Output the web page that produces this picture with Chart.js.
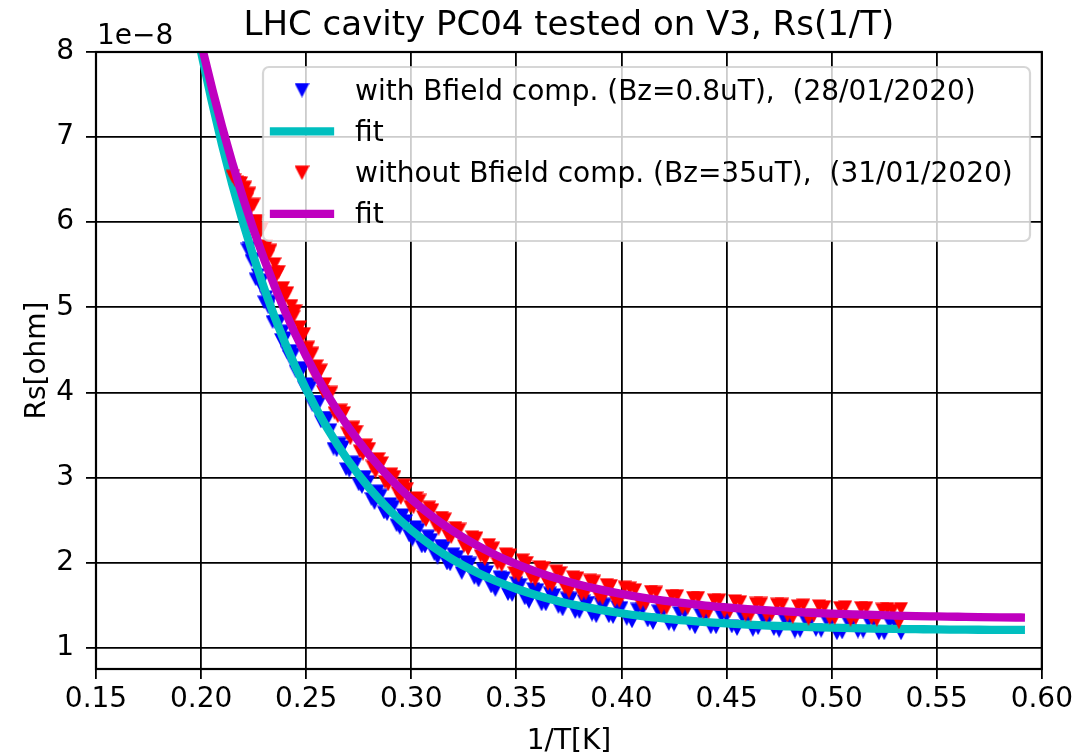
<!DOCTYPE html>
<html>
<head>
<meta charset="utf-8">
<title>LHC cavity PC04 tested on V3, Rs(1/T)</title>
<script src="https://cdn.jsdelivr.net/npm/chart.js@4.4.0/dist/chart.umd.min.js"></script>
<style>
  html, body { margin: 0; padding: 0; background: #fff; }
  canvas { display: block; }
</style>
</head>
<body>
<canvas id="rsChart" width="1077" height="755"></canvas>
<script>
// Rs values are in units of 1e-8 ohm, x is 1/T in 1/K

// 28/01/2020 run, with Bfield compensation (Bz=0.8uT)
const blueX = [
  0.222, 0.223, 0.224, 0.225, 0.226, 0.227, 0.228, 0.229, 0.230, 0.231,
  0.232, 0.233, 0.234, 0.235, 0.236, 0.237, 0.238, 0.239, 0.240, 0.241,
  0.242, 0.243, 0.244, 0.245, 0.246, 0.247, 0.248, 0.249, 0.250, 0.251,
  0.252, 0.253, 0.254, 0.255, 0.256, 0.257, 0.258, 0.259, 0.260,
  0.2615, 0.263, 0.2645, 0.266, 0.2675, 0.269, 0.2705, 0.272, 0.2735, 0.275,
  0.2765, 0.278, 0.2795, 0.281, 0.2825, 0.284, 0.2855, 0.287, 0.2885, 0.290,
  0.2915, 0.293, 0.2945, 0.296, 0.2975, 0.299, 0.3005, 0.302, 0.3035, 0.305,
  0.3065, 0.308, 0.3095, 0.311, 0.3125, 0.314, 0.3155, 0.317, 0.3185, 0.320, 0.322,
  0.324, 0.326, 0.328, 0.330, 0.332, 0.334, 0.336, 0.338, 0.340, 0.342,
  0.344, 0.346, 0.348, 0.350, 0.352, 0.354, 0.356, 0.358, 0.360, 0.362,
  0.364, 0.366, 0.368, 0.370, 0.372, 0.374, 0.376, 0.378, 0.380, 0.382,
  0.384, 0.386, 0.388, 0.390, 0.392, 0.394, 0.396, 0.398, 0.400, 0.4025,
  0.405, 0.4075, 0.410, 0.4125, 0.415, 0.4175, 0.420, 0.4225, 0.425, 0.4275,
  0.430, 0.4325, 0.435, 0.4375, 0.440, 0.4425, 0.445, 0.4475, 0.450, 0.4525,
  0.455, 0.4575, 0.460, 0.4625, 0.465, 0.4675, 0.470, 0.4725, 0.475, 0.4775,
  0.480, 0.4825, 0.485, 0.4875, 0.490, 0.4925, 0.495, 0.4975, 0.500, 0.5025,
  0.505, 0.5075, 0.510, 0.5125, 0.515, 0.5175, 0.520, 0.5225, 0.525, 0.5275,
  0.530, 0.5315, 0.533
];
const blueRs = [
  5.68, 5.70, 5.55, 5.57, 5.33, 5.38, 5.27, 5.32, 5.06, 5.12,
  5.00, 5.07, 4.83, 4.83, 4.84, 4.82, 4.62, 4.72, 4.64, 4.47,
  4.42, 4.49, 4.45, 4.25, 4.28, 4.29, 4.26, 4.06, 4.10, 4.09,
  4.06, 3.85, 3.89, 3.89, 3.87, 3.66, 3.70, 3.70, 3.68,
  3.56, 3.34, 3.32, 3.40, 3.36, 3.10, 3.08, 3.18, 3.16, 2.92,
  2.89, 3.01, 2.95, 2.75, 2.70, 2.84, 2.79, 2.59, 2.57, 2.69,
  2.66, 2.44, 2.41, 2.56, 2.49, 2.32, 2.27, 2.42, 2.39, 2.19,
  2.19, 2.31, 2.27, 2.10, 2.06, 2.20, 2.18, 1.99, 1.98, 2.10, 2.07,
  1.88, 2.01, 1.99, 1.82, 1.79, 1.92, 1.89, 1.72, 1.68, 1.83,
  1.82, 1.63, 1.62, 1.76, 1.74, 1.58, 1.54, 1.69, 1.68, 1.51,
  1.51, 1.64, 1.62, 1.48, 1.45, 1.58, 1.58, 1.42, 1.42, 1.55,
  1.53, 1.39, 1.37, 1.52, 1.51, 1.37, 1.36, 1.48, 1.47, 1.34,
  1.31, 1.45, 1.45, 1.32, 1.29, 1.43, 1.43, 1.28, 1.27, 1.41,
  1.41, 1.28, 1.24, 1.39, 1.38, 1.24, 1.24, 1.37, 1.37, 1.25,
  1.22, 1.36, 1.35, 1.21, 1.23, 1.34, 1.34, 1.22, 1.20, 1.33,
  1.33, 1.19, 1.20, 1.32, 1.32, 1.21, 1.20, 1.32, 1.32, 1.17,
  1.18, 1.31, 1.31, 1.19, 1.19, 1.31, 1.31, 1.17, 1.17, 1.30,
  1.30, 1.30, 1.17
];

// 31/01/2020 run, without Bfield compensation (Bz=35uT)
const redX = [
  0.215, 0.216, 0.217, 0.218, 0.219, 0.220, 0.221, 0.222, 0.223, 0.224,
  0.225, 0.226, 0.227, 0.228, 0.229, 0.230, 0.231, 0.232, 0.233, 0.234,
  0.235, 0.236, 0.237, 0.238, 0.239, 0.240, 0.241, 0.242, 0.243, 0.244,
  0.245, 0.246, 0.247, 0.248, 0.249, 0.250, 0.251, 0.252, 0.253, 0.254,
  0.255, 0.256, 0.257, 0.258, 0.259,
  0.2605, 0.262, 0.2635, 0.265, 0.2665, 0.268, 0.2695, 0.271, 0.2725, 0.274,
  0.2755, 0.277, 0.2785, 0.280, 0.2815, 0.283, 0.2845, 0.286, 0.2875, 0.289,
  0.2905, 0.292, 0.2935, 0.295, 0.2965, 0.298, 0.2995, 0.301, 0.3025, 0.304,
  0.3055, 0.307, 0.3085, 0.310, 0.3115, 0.313, 0.3145, 0.316, 0.3175, 0.319, 0.321,
  0.323, 0.325, 0.327, 0.329, 0.331, 0.333, 0.335, 0.337, 0.339, 0.341,
  0.343, 0.345, 0.347, 0.349, 0.351, 0.353, 0.355, 0.357, 0.359, 0.361,
  0.363, 0.365, 0.367, 0.369, 0.371, 0.373, 0.375, 0.377, 0.379, 0.381,
  0.383, 0.385, 0.387, 0.389, 0.391, 0.393, 0.395, 0.397, 0.399, 0.4015,
  0.404, 0.4065, 0.409, 0.4115, 0.414, 0.4165, 0.419, 0.4215, 0.424, 0.4265,
  0.429, 0.4315, 0.434, 0.4365, 0.439, 0.4415, 0.444, 0.4465, 0.449, 0.4515,
  0.454, 0.4565, 0.459, 0.4615, 0.464, 0.4665, 0.469, 0.4715, 0.474, 0.4765,
  0.479, 0.4815, 0.484, 0.4865, 0.489, 0.4915, 0.494, 0.4965, 0.499, 0.5015,
  0.504, 0.5065, 0.509, 0.5115, 0.514, 0.5165, 0.519, 0.5215, 0.524, 0.5265,
  0.529, 0.532, 0.533
];
const redRs = [
  6.54, 6.50, 6.47, 6.46, 6.46, 6.40, 6.41, 6.28, 6.34, 6.18,
  6.21, 5.96, 6.02, 5.88, 5.93, 5.66, 5.72, 5.61, 5.67, 5.41,
  5.51, 5.38, 5.42, 5.17, 5.23, 5.13, 5.17, 4.92, 5.02, 4.89,
  4.96, 4.69, 4.77, 4.66, 4.69, 4.47, 4.53, 4.43, 4.46, 4.21,
  4.31, 4.23, 4.26, 4.01, 4.10,
  3.98, 4.00, 3.76, 3.72, 3.79, 3.76, 3.52, 3.46, 3.59, 3.54,
  3.31, 3.28, 3.38, 3.34, 3.13, 3.07, 3.22, 3.17, 2.95, 2.92,
  3.04, 3.01, 2.82, 2.76, 2.91, 2.87, 2.66, 2.65, 2.76, 2.73,
  2.54, 2.50, 2.65, 2.62, 2.44, 2.40, 2.53, 2.51, 2.32, 2.30, 2.41,
  2.39, 2.20, 2.16, 2.30, 2.29, 2.08, 2.04, 2.21, 2.17, 1.99,
  1.97, 2.10, 2.09, 1.88, 1.85, 2.03, 2.00, 1.83, 1.80, 1.95,
  1.94, 1.75, 1.74, 1.90, 1.88, 1.71, 1.66, 1.83, 1.82, 1.63,
  1.64, 1.79, 1.78, 1.61, 1.58, 1.74, 1.73, 1.56, 1.55, 1.71,
  1.70, 1.68, 1.52, 1.52, 1.66, 1.65, 1.47, 1.47, 1.61, 1.61,
  1.47, 1.47, 1.59, 1.59, 1.42, 1.42, 1.56, 1.56, 1.43, 1.43,
  1.55, 1.54, 1.39, 1.39, 1.52, 1.52, 1.38, 1.40, 1.51, 1.51,
  1.38, 1.36, 1.49, 1.50, 1.34, 1.38, 1.49, 1.48, 1.35, 1.35,
  1.47, 1.48, 1.33, 1.35, 1.47, 1.47, 1.35, 1.33, 1.45, 1.46,
  1.44, 1.30, 1.46
];

// fitted curves, sampled every 0.01 in 1/T
const fitX = [
  0.19, 0.20, 0.21, 0.22, 0.23, 0.24, 0.25, 0.26, 0.27, 0.28,
  0.29, 0.30, 0.31, 0.32, 0.33, 0.34, 0.35, 0.36, 0.37, 0.38,
  0.39, 0.40, 0.41, 0.42, 0.43, 0.44, 0.45, 0.46, 0.47, 0.48,
  0.49, 0.50, 0.51, 0.52, 0.53, 0.54, 0.55, 0.56, 0.57, 0.58, 0.59
];
const fitBlue = [
  9.300, 8.000, 6.908, 5.992, 5.223, 4.577, 4.035, 3.580, 3.198, 2.877,
  2.608, 2.382, 2.192, 2.033, 1.899, 1.787, 1.693, 1.614, 1.547, 1.491,
  1.445, 1.405, 1.372, 1.345, 1.321, 1.302, 1.286, 1.272, 1.260, 1.251,
  1.243, 1.236, 1.230, 1.225, 1.221, 1.218, 1.215, 1.213, 1.211, 1.210, 1.209
];
const fitRed = [
  9.255, 8.105, 7.122, 6.282, 5.564, 4.950, 4.426, 3.977, 3.594, 3.267,
  2.987, 2.747, 2.543, 2.368, 2.219, 2.091, 1.982, 1.889, 1.809, 1.741,
  1.683, 1.633, 1.590, 1.554, 1.523, 1.496, 1.474, 1.454, 1.438, 1.423,
  1.411, 1.401, 1.392, 1.385, 1.378, 1.372, 1.368, 1.364, 1.360, 1.357, 1.355
];

const xTicks = [0.15, 0.20, 0.25, 0.30, 0.35, 0.40, 0.45, 0.50, 0.55, 0.60];
const yTicks = [1, 2, 3, 4, 5, 6, 7, 8];

const labels = [
  'with Bfield comp. (Bz=0.8uT),  (28/01/2020)',
  'fit',
  'without Bfield comp. (Bz=35uT),  (31/01/2020)',
  'fit'
];

const FONT = '"DejaVu Sans", sans-serif';
const FIT_W = 8.3;

// matplotlib-like 'v' marker
function triangleDown(color, size) {
  const c = document.createElement('canvas');
  c.width = size;
  c.height = size;
  const g = c.getContext('2d');
  g.fillStyle = color;
  g.beginPath();
  g.moveTo(0, 0.5);
  g.lineTo(size, 0.5);
  g.lineTo(size / 2, size);
  g.closePath();
  g.fill();
  return c;
}
const blueMark = triangleDown('#0000ff', 14);
const redMark = triangleDown('#ff0000', 14);

const pts = (xs, ys) => xs.map((x, i) => ({ x: x, y: ys[i] }));

// axes frame, title, labels and legend drawn matplotlib style
const decor = {
  id: 'decor',
  afterDatasetsDraw(chart) {
    const ctx = chart.ctx;
    const a = chart.chartArea;
    ctx.save();

    ctx.strokeStyle = '#000';
    ctx.lineWidth = 2.2;
    ctx.strokeRect(a.left, a.top, a.right - a.left, a.bottom - a.top);

    ctx.fillStyle = '#000';
    ctx.textAlign = 'center';
    ctx.textBaseline = 'alphabetic';
    ctx.font = '34px ' + FONT;
    ctx.fillText('LHC cavity PC04 tested on V3, Rs(1/T)', (a.left + a.right) / 2, 35);

    ctx.font = '28px ' + FONT;
    ctx.fillText('1/T[K]', (a.left + a.right) / 2, 749);

    ctx.save();
    ctx.translate(45, (a.top + a.bottom) / 2);
    ctx.rotate(-Math.PI / 2);
    ctx.fillText('Rs[ohm]', 0, 0);
    ctx.restore();

    ctx.textAlign = 'left';
    ctx.fillText('1e\u22128', a.left + 1, 44);

    // legend box
    const lx = 263, ly = 67, lw = 767, lh = 174;
    ctx.beginPath();
    ctx.roundRect(lx, ly, lw, lh, 6);
    ctx.fillStyle = 'rgba(255,255,255,0.8)';
    ctx.fill();
    ctx.strokeStyle = 'rgba(204,204,204,0.8)';
    ctx.lineWidth = 2.2;
    ctx.stroke();

    chart.data.datasets.forEach((ds, i) => {
      const cy = 90 + i * 41.3;
      if (ds.showLine) {
        ctx.beginPath();
        ctx.strokeStyle = ds.borderColor;
        ctx.lineWidth = FIT_W;
        ctx.lineCap = 'square';
        ctx.moveTo(274, cy);
        ctx.lineTo(330, cy);
        ctx.stroke();
      } else {
        const m = triangleDown(ds.borderColor, 15);
        ctx.drawImage(m, 302 - m.width / 2, cy - m.height / 2);
      }
      ctx.fillStyle = '#000';
      ctx.font = '28px ' + FONT;
      ctx.fillText(ds.label, 355, cy + 9.5);
    });

    ctx.restore();
  }
};

new Chart(document.getElementById('rsChart'), {
  type: 'scatter',
  data: {
    datasets: [
      {
        label: labels[0],
        data: pts(blueX, blueRs),
        pointStyle: blueMark,
        pointRadius: 7,
        backgroundColor: '#0000ff',
        borderColor: '#0000ff',
        order: 4
      },
      {
        label: labels[1],
        data: pts(fitX, fitBlue),
        showLine: true,
        pointRadius: 0,
        borderColor: '#00bfbf',
        borderWidth: FIT_W,
        borderCapStyle: 'square',
        cubicInterpolationMode: 'monotone',
        clip: 0,
        order: 3
      },
      {
        label: labels[2],
        data: pts(redX, redRs),
        pointStyle: redMark,
        pointRadius: 7,
        backgroundColor: '#ff0000',
        borderColor: '#ff0000',
        order: 2
      },
      {
        label: labels[3],
        data: pts(fitX, fitRed),
        showLine: true,
        pointRadius: 0,
        borderColor: '#bf00bf',
        borderWidth: FIT_W,
        borderCapStyle: 'square',
        cubicInterpolationMode: 'monotone',
        clip: 0,
        order: 1
      }
    ]
  },
  options: {
    responsive: false,
    animation: false,
    devicePixelRatio: 1,
    layout: { padding: { top: 52, right: 33, left: 0, bottom: 0 } },
    plugins: {
      legend: { display: false },
      tooltip: { enabled: false }
    },
    scales: {
      x: {
        type: 'linear',
        min: 0.15,
        max: 0.60,
        afterFit: s => { s.height = 86; },
        afterBuildTicks: s => { s.ticks = xTicks.map(v => ({ value: v })); },
        grid: { color: '#000', lineWidth: 1.8, tickLength: 10 },
        border: { display: false },
        ticks: {
          color: '#000',
          font: { family: FONT, size: 28 },
          padding: 4,
          maxRotation: 0,
          autoSkip: false,
          callback: v => v.toFixed(2)
        }
      },
      y: {
        type: 'linear',
        min: 0.75,
        max: 8,
        afterFit: s => { s.width = 96; },
        afterBuildTicks: s => { s.ticks = yTicks.map(v => ({ value: v })); },
        grid: { color: '#000', lineWidth: 1.8, tickLength: 10 },
        border: { display: false },
        ticks: {
          color: '#000',
          font: { family: FONT, size: 28 },
          padding: 12,
          autoSkip: false,
          callback: v => String(v)
        }
      }
    }
  },
  plugins: [decor]
});
</script>
</body>
</html>
